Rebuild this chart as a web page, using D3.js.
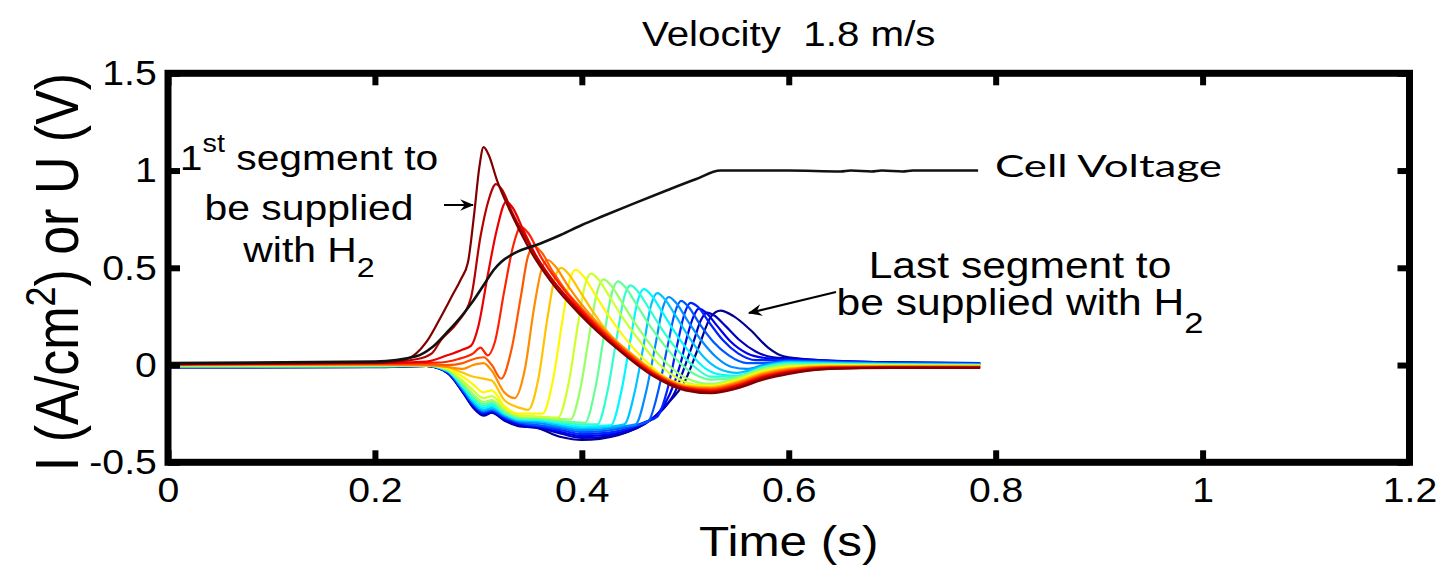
<!DOCTYPE html>
<html>
<head>
<meta charset="utf-8">
<script src="https://cdn.jsdelivr.net/npm/d3@7"></script>
<style>
  body { margin: 0; background: #fff; }
  svg { display: block; }
  text { font-family: "Liberation Sans", Arial, sans-serif; fill: #000; white-space: pre; }
</style>
</head>
<body>
<svg id="chart" width="1437" height="570"></svg>
<script>
"use strict";

// tick values
const xTicks = [0, 0.2, 0.4, 0.6, 0.8, 1, 1.2];
const yTicks = [-0.5, 0, 0.5, 1, 1.5];

// cell voltage (black line), [time s, U V]
const cellVoltage = [
  [0, 0.01], [0.2, 0.018], [0.24, 0.045], [0.255, 0.09], [0.27, 0.17], [0.285, 0.26],
  [0.295, 0.33], [0.305, 0.41], [0.315, 0.49], [0.322, 0.53], [0.335, 0.575], [0.36, 0.625],
  [0.38, 0.67], [0.4, 0.72], [0.42, 0.765], [0.45, 0.83], [0.483, 0.9], [0.51, 0.955],
  [0.534, 1.0], [0.6, 1.0], [0.65, 0.995], [0.66, 1.0], [0.68, 0.995], [0.69, 1.0],
  [0.71, 0.995], [0.72, 1.0], [0.783, 1.0]
];

// segment currents, first supplied (seg01) to last supplied (seg20), [time s, I A/cm2]
const seg01 = [[0,0.005],[0.2,0.012],[0.23,0.03],[0.24,0.06],[0.25,0.12],[0.264,0.25],[0.275,0.36],[0.283,0.44],[0.29,0.53],[0.296,0.78],[0.301,1.02],[0.305,1.12],[0.31,1.08],[0.318,0.95],[0.33,0.8],[0.34,0.69],[0.35,0.59],[0.37,0.43],[0.4,0.25],[0.435,0.08],[0.467,-0.05],[0.5,-0.13],[0.525,-0.145],[0.55,-0.12],[0.575,-0.075],[0.6,-0.045],[0.64,-0.02],[0.7,-0.015],[0.785,-0.015]];
const seg02 = [[0,0.005],[0.2,0.012],[0.24,0.03],[0.255,0.06],[0.264,0.13],[0.28,0.22],[0.293,0.35],[0.302,0.66],[0.31,0.85],[0.317,0.93],[0.323,0.9],[0.333,0.78],[0.345,0.66],[0.36,0.52],[0.38,0.38],[0.4,0.26],[0.435,0.085],[0.467,-0.045],[0.5,-0.125],[0.525,-0.14],[0.55,-0.114],[0.575,-0.069],[0.6,-0.04],[0.64,-0.018],[0.7,-0.013],[0.785,-0.014]];
const seg03 = [[0,0.004],[0.2,0.01],[0.25,0.018],[0.27,0.05],[0.285,0.08],[0.293,0.1],[0.3,0.2],[0.309,0.46],[0.318,0.7],[0.327,0.84],[0.333,0.81],[0.343,0.7],[0.355,0.57],[0.37,0.45],[0.4,0.27],[0.435,0.09],[0.467,-0.04],[0.5,-0.12],[0.525,-0.135],[0.55,-0.108],[0.575,-0.063],[0.6,-0.035],[0.64,-0.015],[0.7,-0.012],[0.785,-0.012]];
const seg04 = [[0,0.004],[0.2,0.008],[0.26,0.012],[0.28,0.03],[0.295,0.06],[0.302,0.09],[0.309,0.05],[0.316,0.12],[0.325,0.38],[0.334,0.62],[0.341,0.71],[0.348,0.68],[0.36,0.56],[0.375,0.44],[0.4,0.28],[0.435,0.1],[0.467,-0.035],[0.5,-0.117],[0.525,-0.129],[0.55,-0.103],[0.575,-0.058],[0.6,-0.031],[0.64,-0.013],[0.7,-0.01],[0.785,-0.011]];
const seg05 = [[0,0.002],[0.2,0.004],[0.25,0.003],[0.27,0],[0.285,0.01],[0.295,0.03],[0.305,0.04],[0.313,0],[0.322,-0.07],[0.332,0.08],[0.341,0.35],[0.348,0.56],[0.354,0.61],[0.361,0.58],[0.372,0.48],[0.385,0.38],[0.4,0.29],[0.435,0.105],[0.467,-0.03],[0.5,-0.113],[0.525,-0.124],[0.55,-0.097],[0.575,-0.052],[0.6,-0.026],[0.64,-0.011],[0.7,-0.009],[0.785,-0.01]];
const seg06 = [[0,0],[0.2,0.002],[0.25,0],[0.27,-0.01],[0.285,-0.02],[0.295,0],[0.305,0.01],[0.313,-0.03],[0.325,-0.14],[0.335,-0.17],[0.345,-0.02],[0.354,0.3],[0.361,0.49],[0.367,0.54],[0.374,0.51],[0.385,0.42],[0.4,0.31],[0.42,0.19],[0.45,0.045],[0.48,-0.068],[0.5,-0.109],[0.525,-0.119],[0.55,-0.091],[0.575,-0.046],[0.6,-0.021],[0.64,-0.008],[0.7,-0.007],[0.785,-0.008]];
const seg07 = [[0,-0.001],[0.2,0],[0.25,0],[0.27,-0.01],[0.285,-0.04],[0.295,-0.06],[0.305,-0.07],[0.313,-0.08],[0.325,-0.18],[0.34,-0.22],[0.348,-0.23],[0.358,-0.07],[0.367,0.25],[0.374,0.45],[0.38,0.5],[0.387,0.47],[0.398,0.38],[0.41,0.28],[0.425,0.17],[0.45,0.05],[0.48,-0.064],[0.5,-0.105],[0.525,-0.113],[0.55,-0.085],[0.575,-0.04],[0.6,-0.017],[0.64,-0.006],[0.7,-0.006],[0.785,-0.007]];
const seg08 = [[0,-0.002],[0.2,-0.001],[0.25,0],[0.27,-0.015],[0.285,-0.06],[0.295,-0.1],[0.305,-0.14],[0.313,-0.13],[0.325,-0.21],[0.34,-0.25],[0.362,-0.25],[0.372,-0.08],[0.381,0.22],[0.388,0.43],[0.394,0.49],[0.401,0.46],[0.412,0.37],[0.425,0.26],[0.44,0.15],[0.46,0.03],[0.48,-0.06],[0.5,-0.1],[0.525,-0.108],[0.55,-0.08],[0.575,-0.035],[0.6,-0.012],[0.64,-0.003],[0.7,-0.004],[0.785,-0.006]];
const seg09 = [[0,-0.003],[0.2,-0.002],[0.25,0],[0.27,-0.02],[0.285,-0.08],[0.295,-0.13],[0.305,-0.17],[0.313,-0.16],[0.325,-0.22],[0.34,-0.26],[0.36,-0.265],[0.377,-0.27],[0.387,-0.1],[0.396,0.2],[0.403,0.41],[0.409,0.47],[0.416,0.44],[0.427,0.35],[0.44,0.24],[0.455,0.13],[0.47,0.03],[0.49,-0.06],[0.51,-0.1],[0.525,-0.103],[0.55,-0.074],[0.575,-0.029],[0.6,-0.007],[0.64,-0.001],[0.7,-0.002],[0.785,-0.004]];
const seg10 = [[0,-0.004],[0.2,-0.003],[0.25,-0.001],[0.27,-0.02],[0.285,-0.09],[0.295,-0.15],[0.305,-0.19],[0.313,-0.18],[0.325,-0.23],[0.34,-0.265],[0.36,-0.268],[0.38,-0.278],[0.389,-0.28],[0.399,-0.11],[0.408,0.18],[0.415,0.38],[0.421,0.44],[0.428,0.41],[0.439,0.32],[0.452,0.21],[0.467,0.1],[0.48,0.02],[0.5,-0.065],[0.525,-0.097],[0.55,-0.068],[0.575,-0.023],[0.6,-0.002],[0.64,0.001],[0.7,-0.001],[0.785,-0.003]];
const seg11 = [[0,-0.005],[0.2,-0.004],[0.25,-0.002],[0.27,-0.025],[0.285,-0.1],[0.295,-0.16],[0.305,-0.2],[0.313,-0.19],[0.325,-0.24],[0.34,-0.27],[0.36,-0.275],[0.38,-0.288],[0.403,-0.297],[0.413,-0.12],[0.422,0.17],[0.429,0.37],[0.435,0.43],[0.442,0.4],[0.453,0.31],[0.466,0.2],[0.48,0.1],[0.495,0.01],[0.51,-0.05],[0.525,-0.075],[0.55,-0.062],[0.575,-0.017],[0.6,0.002],[0.64,0.004],[0.7,0.001],[0.785,-0.002]];
const seg12 = [[0,-0.006],[0.2,-0.005],[0.25,-0.002],[0.27,-0.025],[0.285,-0.11],[0.295,-0.17],[0.305,-0.21],[0.313,-0.2],[0.325,-0.245],[0.34,-0.275],[0.36,-0.28],[0.38,-0.295],[0.4,-0.305],[0.415,-0.305],[0.425,-0.13],[0.434,0.15],[0.441,0.35],[0.447,0.41],[0.454,0.38],[0.465,0.29],[0.478,0.18],[0.492,0.08],[0.507,0],[0.525,-0.06],[0.55,-0.06],[0.575,-0.013],[0.6,0.007],[0.64,0.006],[0.7,0.002],[0.785,-0.001]];
const seg13 = [[0,-0.007],[0.2,-0.006],[0.25,-0.003],[0.27,-0.03],[0.285,-0.11],[0.295,-0.18],[0.305,-0.22],[0.313,-0.21],[0.325,-0.25],[0.34,-0.28],[0.36,-0.285],[0.38,-0.302],[0.4,-0.316],[0.428,-0.31],[0.438,-0.14],[0.447,0.13],[0.454,0.33],[0.46,0.39],[0.467,0.36],[0.478,0.27],[0.491,0.16],[0.505,0.06],[0.52,-0.02],[0.535,-0.05],[0.55,-0.055],[0.575,-0.01],[0.6,0.01],[0.64,0.008],[0.7,0.003],[0.785,0]];
const seg14 = [[0,-0.008],[0.2,-0.007],[0.25,-0.003],[0.27,-0.03],[0.285,-0.12],[0.295,-0.19],[0.305,-0.23],[0.313,-0.22],[0.325,-0.255],[0.34,-0.285],[0.36,-0.29],[0.38,-0.31],[0.4,-0.325],[0.42,-0.32],[0.441,-0.305],[0.451,-0.14],[0.46,0.11],[0.467,0.31],[0.473,0.37],[0.48,0.34],[0.491,0.25],[0.504,0.14],[0.518,0.04],[0.533,-0.02],[0.55,-0.04],[0.575,-0.005],[0.6,0.015],[0.64,0.011],[0.7,0.005],[0.785,0.002]];
const seg15 = [[0,-0.009],[0.2,-0.008],[0.25,-0.004],[0.27,-0.03],[0.285,-0.12],[0.295,-0.19],[0.305,-0.235],[0.313,-0.225],[0.325,-0.26],[0.34,-0.29],[0.36,-0.3],[0.38,-0.318],[0.4,-0.335],[0.42,-0.33],[0.44,-0.315],[0.452,-0.305],[0.462,-0.14],[0.471,0.1],[0.478,0.29],[0.484,0.35],[0.491,0.32],[0.502,0.23],[0.515,0.13],[0.53,0.04],[0.545,-0.01],[0.56,-0.02],[0.575,0],[0.6,0.018],[0.64,0.013],[0.7,0.007],[0.785,0.004]];
const seg16 = [[0,-0.01],[0.2,-0.009],[0.25,-0.004],[0.27,-0.035],[0.285,-0.13],[0.295,-0.2],[0.305,-0.24],[0.313,-0.23],[0.325,-0.265],[0.34,-0.295],[0.36,-0.31],[0.38,-0.326],[0.4,-0.345],[0.42,-0.34],[0.44,-0.323],[0.464,-0.29],[0.474,-0.13],[0.483,0.1],[0.49,0.27],[0.496,0.33],[0.503,0.3],[0.514,0.21],[0.527,0.12],[0.542,0.05],[0.56,0.01],[0.575,0.01],[0.6,0.022],[0.64,0.016],[0.7,0.009],[0.785,0.006]];
const seg17 = [[0,-0.01],[0.2,-0.009],[0.25,-0.004],[0.27,-0.035],[0.285,-0.13],[0.295,-0.2],[0.305,-0.245],[0.313,-0.235],[0.325,-0.27],[0.34,-0.3],[0.36,-0.315],[0.38,-0.335],[0.4,-0.355],[0.42,-0.35],[0.44,-0.333],[0.46,-0.295],[0.473,-0.265],[0.483,-0.12],[0.492,0.1],[0.499,0.26],[0.505,0.32],[0.512,0.3],[0.523,0.22],[0.536,0.13],[0.551,0.06],[0.568,0.025],[0.6,0.026],[0.64,0.019],[0.7,0.011],[0.785,0.008]];
const seg18 = [[0,-0.011],[0.2,-0.01],[0.25,-0.005],[0.27,-0.04],[0.285,-0.135],[0.295,-0.21],[0.305,-0.25],[0.313,-0.24],[0.325,-0.275],[0.34,-0.305],[0.36,-0.32],[0.38,-0.345],[0.4,-0.365],[0.42,-0.36],[0.44,-0.342],[0.46,-0.3],[0.475,-0.24],[0.485,-0.15],[0.495,0],[0.502,0.15],[0.508,0.25],[0.513,0.29],[0.52,0.27],[0.531,0.2],[0.544,0.12],[0.56,0.06],[0.58,0.035],[0.6,0.03],[0.64,0.021],[0.7,0.013],[0.785,0.009]];
const seg19 = [[0,-0.011],[0.2,-0.01],[0.25,-0.005],[0.27,-0.04],[0.285,-0.14],[0.295,-0.215],[0.305,-0.255],[0.313,-0.245],[0.325,-0.28],[0.34,-0.31],[0.36,-0.325],[0.38,-0.353],[0.4,-0.375],[0.42,-0.37],[0.44,-0.35],[0.46,-0.305],[0.478,-0.23],[0.49,-0.14],[0.5,0],[0.508,0.12],[0.515,0.23],[0.521,0.27],[0.528,0.255],[0.539,0.2],[0.552,0.13],[0.568,0.07],[0.585,0.04],[0.6,0.035],[0.64,0.023],[0.7,0.014],[0.785,0.01]];
const seg20 = [[0,-0.012],[0.2,-0.011],[0.25,-0.005],[0.27,-0.04],[0.285,-0.14],[0.295,-0.22],[0.305,-0.26],[0.313,-0.245],[0.325,-0.285],[0.34,-0.315],[0.354,-0.32],[0.38,-0.37],[0.4,-0.385],[0.435,-0.36],[0.467,-0.28],[0.486,-0.18],[0.499,-0.09],[0.512,0.08],[0.525,0.25],[0.534,0.28],[0.547,0.25],[0.563,0.18],[0.58,0.09],[0.595,0.045],[0.628,0.025],[0.66,0.015],[0.7,0.012],[0.785,0.01]];

const segments = [seg01, seg02, seg03, seg04, seg05, seg06, seg07, seg08, seg09, seg10,
                  seg11, seg12, seg13, seg14, seg15, seg16, seg17, seg18, seg19, seg20];

const svg = d3.select("#chart");
const plot = { left: 168, right: 1409.5, top: 73.3, bottom: 462.3 };
const stretch = 1.12; // the reference glyphs are a bit wide

const x = d3.scaleLinear().domain([0, 1.2]).range([plot.left, plot.right]);
const y = d3.scaleLinear().domain([-0.5, 1.5]).range([plot.bottom, plot.top]);

// matlab jet, reversed so the first segment is dark red
const jet = d3.scaleLinear()
  .domain([0, 0.125, 0.375, 0.625, 0.875, 1])
  .range(["#00008f", "#0000ff", "#00ffff", "#ffff00", "#ff0000", "#800000"]);
const segColor = (i) => jet(1 - i / (segments.length - 1));

const line = d3.line()
  .x((d) => x(d[0]))
  .y((d) => y(d[1]))
  .curve(d3.curveMonotoneX);

// curves, last segment drawn first
const curves = svg.append("g").attr("fill", "none");
segments.slice().reverse().forEach((seg, j) => {
  const i = segments.length - 1 - j;
  curves.append("path")
    .attr("d", line(seg))
    .attr("stroke", segColor(i))
    .attr("stroke-width", 2.2)
    .attr("stroke-linejoin", "round");
});
curves.append("path")
  .attr("d", line(cellVoltage))
  .attr("stroke", "#111")
  .attr("stroke-width", 2.6);

// axes with inward ticks on all four sides
function styleAxis(g) {
  g.select(".domain").remove();
  g.selectAll(".tick line").attr("stroke", "#000").attr("stroke-width", 6);
  g.selectAll(".tick text")
    .style("font-size", "35px")
    .style("font-family", "'Liberation Sans', Arial, sans-serif")
    .attr("fill", "#000");
}

svg.append("g")
  .attr("transform", `translate(0,${plot.bottom})`)
  .call(d3.axisBottom(x).tickValues(xTicks).tickSize(-12).tickPadding(15).tickFormat((d) => String(d)))
  .call(styleAxis)
  .call((g) => g.selectAll(".tick text").attr("transform", `scale(${stretch},1)`));

svg.append("g")
  .attr("transform", `translate(${plot.left},0)`)
  .call(d3.axisLeft(y).tickValues(yTicks).tickSize(-12).tickPadding(10).tickFormat((d) => String(d)))
  .call(styleAxis)
  .call((g) => g.selectAll(".tick text").attr("transform", `scale(${stretch},1)`));

svg.append("g")
  .attr("transform", `translate(0,${plot.top})`)
  .call(d3.axisTop(x).tickValues(xTicks).tickSize(-12).tickFormat(""))
  .call(styleAxis);

svg.append("g")
  .attr("transform", `translate(${plot.right},0)`)
  .call(d3.axisRight(y).tickValues(yTicks).tickSize(-12).tickFormat(""))
  .call(styleAxis);

svg.append("rect")
  .attr("x", plot.left).attr("y", plot.top)
  .attr("width", plot.right - plot.left).attr("height", plot.bottom - plot.top)
  .attr("fill", "none").attr("stroke", "#000").attr("stroke-width", 7);

// title and axis labels
svg.append("text")
  .attr("transform", `translate(${(plot.left + plot.right) / 2},46) scale(${stretch},1)`)
  .attr("text-anchor", "middle")
  .style("font-size", "36px")
  .text("Velocity  1.8 m/s");

svg.append("text")
  .attr("transform", `translate(${(plot.left + plot.right) / 2},556) scale(1.15,1)`)
  .attr("text-anchor", "middle")
  .style("font-size", "43px")
  .text("Time (s)");

const yLabel = svg.append("text")
  .attr("transform", "translate(78,272) rotate(-90) scale(1,1.17)")
  .attr("text-anchor", "middle")
  .style("font-size", "52px");
yLabel.append("tspan").text("I (A/cm");
yLabel.append("tspan").attr("dy", -20).style("font-size", "36px").text("2");
yLabel.append("tspan").attr("dy", 20).text(") or U (V)");

// annotations
svg.append("defs").append("marker")
  .attr("id", "arrow")
  .attr("viewBox", "0 0 12 10")
  .attr("refX", 11).attr("refY", 5)
  .attr("markerWidth", 7).attr("markerHeight", 6)
  .attr("markerUnits", "strokeWidth")
  .attr("orient", "auto")
  .append("path")
  .attr("d", "M0,0 L12,5 L0,10 L4,5 Z")
  .attr("fill", "#000");

function annotate(lines, cx, fontSize) {
  lines.forEach((ln) => {
    const t = svg.append("text")
      .attr("transform", `translate(${cx},${ln.y}) scale(1.15,1)`)
      .attr("text-anchor", "middle")
      .style("font-size", fontSize + "px");
    ln.parts.forEach((p) => {
      const s = t.append("tspan").text(p.text);
      if (p.dy) s.attr("dy", p.dy);
      if (p.size) s.style("font-size", p.size + "px");
    });
  });
}

annotate([
  { y: 170, parts: [{ text: "1" }, { text: "st", dy: -18, size: 25 }, { text: " segment to", dy: 18 }] },
  { y: 220, parts: [{ text: "be supplied" }] },
  { y: 262, parts: [{ text: "with H" }, { text: "2", dy: 15, size: 28 }] }
], 309, 35.5);

annotate([
  { y: 278, parts: [{ text: "Last segment to" }] },
  { y: 315, parts: [{ text: "be supplied with H" }, { text: "2", dy: 18, size: 30 }] }
], 1020, 37);

svg.append("text")
  .attr("x", 995).attr("y", 177)
  .attr("textLength", 227).attr("lengthAdjust", "spacingAndGlyphs")
  .style("font-family", "Lato, 'Open Sans', sans-serif")
  .style("font-size", "31px")
  .text("Cell Voltage");

svg.append("line")
  .attr("x1", 444).attr("y1", 205).attr("x2", 473).attr("y2", 205)
  .attr("stroke", "#000").attr("stroke-width", 2)
  .attr("marker-end", "url(#arrow)");

svg.append("line")
  .attr("x1", 836).attr("y1", 292).attr("x2", 749).attr("y2", 313)
  .attr("stroke", "#000").attr("stroke-width", 2)
  .attr("marker-end", "url(#arrow)");
</script>
</body>
</html>
